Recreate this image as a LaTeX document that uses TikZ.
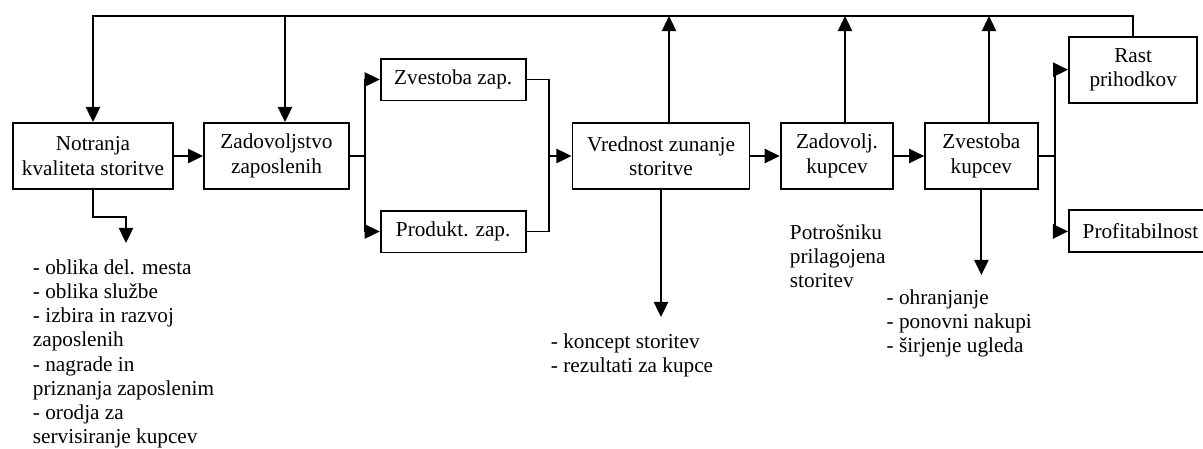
\documentclass[tikz,border=0pt]{standalone}
\usepackage{fontspec}
\setmainfont{Liberation Serif}
\usetikzlibrary{arrows.meta}

\begin{document}
\begin{tikzpicture}[
  x=0.565pt, y=-0.565pt,
  >={Triangle[length=8.5pt, width=8pt]}, line width=1.1pt,
  every node/.style={font=\fontsize{12}{13.7}\selectfont},
  box/.style={draw, align=center, inner sep=2pt, minimum height=37.3pt},
  lowbox/.style={draw, align=center, inner sep=2pt, minimum height=23.7pt},
  txt/.style={align=left, anchor=north west, inner sep=0pt}
]
\useasboundingbox (0,0) rectangle (1203,448);

\node[box, minimum width=90.4pt] (notr) at (93,156) {Notranja\\kvaliteta storitve};
\node[box, minimum width=81.9pt] (zadz) at (276.5,156) {Zadovoljstvo\\zaposlenih};
\node[lowbox, minimum width=81.9pt] (zvz) at (453.2,79.5) {Zvestoba zap.};
\node[lowbox, minimum width=81.9pt] (prz) at (453.2,231.5) {Produkt. zap.};
\node[box, minimum width=100pt] (vred) at (661,156) {Vrednost zunanje\\storitve};
\node[box, minimum width=63.6pt] (zadk) at (837,156) {Zadovolj.\\kupcev};
\node[box, minimum width=63.6pt] (zvk) at (981.4,156) {Zvestoba\\kupcev};
\node[box, minimum width=72.5pt] (rast) at (1133.2,69.7) {Rast\\prihodkov};
\node[lowbox, minimum width=80.8pt] (prof) at (1140.5,231.4) {Profitabilnost};

\node[txt] (notrlist) at (32,258.5) {- oblika del. mesta\\- oblika službe\\- izbira in razvoj\\zaposlenih\\- nagrade in\\priznanja zaposlenim\\- orodja za\\servisiranje kupcev};
\node[txt] (vredlist) at (550,332.5) {- koncept storitev\\- rezultati za kupce};
\node[txt] (potr) at (789,223.5) {Potrošniku\\prilagojena\\storitev};
\node[txt] (zvklist) at (885.7,288.5) {- ohranjanje\\- ponovni nakupi\\- širjenje ugleda};

\coordinate (splitA) at (365,156);
\coordinate (joinA) at (549,156);
\coordinate (splitB) at (1055,156);
\coordinate (topL) at (93,16);
\coordinate (fbZ) at (285,16);
\coordinate (fbV) at (669,16);
\coordinate (fbK) at (845,16);
\coordinate (fbC) at (989,16);
\coordinate (notrOut) at (126,243);
\coordinate (vredOut) at (661,317);
\coordinate (zvkOut) at (981.4,275);

\draw[->] (notr) -- (zadz);
\draw (zadz.east) -- (splitA);
\draw[->] (splitA) |- (zvz.west);
\draw[->] (splitA) |- (prz.west);
\draw (zvz.east) -| (joinA);
\draw (prz.east) -| (joinA);
\draw[->] (joinA) -- (vred.west);
\draw[->] (vred) -- (zadk);
\draw[->] (zadk) -- (zvk);
\draw (zvk.east) -- (splitB);
\draw[->] (splitB) |- (rast.west);
\draw[->] (splitB) |- (prof.west);

\draw[->] (rast.north) |- (topL) -- (notr.north);
\draw[->] (fbZ) -- (fbZ |- zadz.north);
\draw[->] (fbV |- vred.north) -- (fbV);
\draw[->] (fbK |- zadk.north) -- (fbK);
\draw[->] (fbC |- zvk.north) -- (fbC);

\draw[->] (notr.south) -- ++(0,27) -| (notrOut);
\draw[->] (vred.south) -- (vredOut);
\draw[->] (zvk.south) -- (zvkOut);
\end{tikzpicture}
\end{document}
